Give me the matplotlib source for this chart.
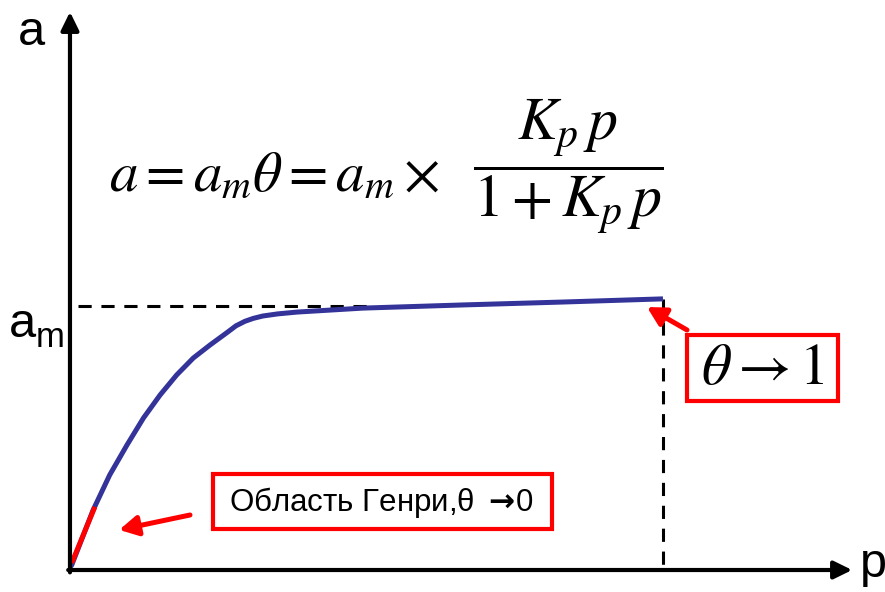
import matplotlib.pyplot as plt
from matplotlib.patches import Rectangle

plt.rcParams['font.family'] = ['Liberation Sans', 'DejaVu Sans']
plt.rcParams['lines.scale_dashes'] = False

# isotherm: pressure p and adsorption a (a_m = 1)
p_vals = [0.0, 0.03, 0.39, 0.67, 0.96, 1.24, 1.52, 1.80, 2.08, 2.36, 2.64,
          2.80, 2.95, 3.09, 3.25, 3.50, 3.83, 4.94, 6.63, 8.31, 10.0]
a_vals = [0.01, 0.019, 0.227, 0.360, 0.473, 0.576, 0.663, 0.739, 0.803, 0.852,
          0.898, 0.925, 0.942, 0.953, 0.962, 0.970, 0.977, 0.992, 1.004, 1.015,
          1.027]

# Henry region, initial linear part
henry_p = [0.03, 0.42]
henry_a = [0.027, 0.239]

a_m = 1.0
p_end = 10.0

W, H = 885, 592
fig = plt.figure(figsize=(W / 100, H / 100), dpi=100)
ax = fig.add_axes([0, 0, 1, 1])
ax.set_xlim(-1.180, 13.744)
ax.set_ylim(-0.0833, 2.159)
ax.axis('off')


def px(x, y):
    return x / W, 1 - y / H


# axes with arrows
arrow_k = dict(arrowstyle='-|>,head_length=0.55,head_width=0.27', lw=3,
               color='black', shrinkA=0, shrinkB=0, mutation_scale=20)
ax.annotate('', xy=(0, 2.114), xytext=(0, -0.009), arrowprops=arrow_k)
ax.annotate('', xy=(13.19, 0), xytext=(-0.03, 0), arrowprops=arrow_k)

# dashed guides
ax.plot([0.13, 5.11], [a_m, a_m], color='black', lw=2.2, dashes=(9.5, 7))
ax.plot([p_end, p_end], [a_vals[-1], 0], color='black', lw=2.2, dashes=(9.5, 7))

# isotherm curve and Henry part
ax.plot(p_vals, a_vals, color='#333399', lw=3.6, solid_capstyle='butt',
        solid_joinstyle='round')
ax.plot(henry_p, henry_a, color='red', lw=3.6, solid_capstyle='butt')

# axis labels
ax.text(*px(18, 45), 'a', transform=ax.transAxes, fontsize=35,
        ha='left', va='baseline')
ax.text(*px(860, 577), 'p', transform=ax.transAxes, fontsize=35,
        ha='left', va='baseline')
ax.text(*px(9, 337), 'a', transform=ax.transAxes, fontsize=35,
        ha='left', va='baseline')
ax.text(*px(36, 347), 'm', transform=ax.transAxes, fontsize=25,
        ha='left', va='baseline')

# Langmuir equation: left side and fraction
ax.text(*px(109, 190), r'$a = a_m\theta = a_m \times$',
        transform=ax.transAxes, fontsize=41, math_fontfamily='stix',
        ha='left', va='baseline')
ax.text(*px(568, 166), r'$\dfrac{K_p\, p}{1 + K_p\, p}$',
        transform=ax.transAxes, fontsize=43, math_fontfamily='stix',
        ha='center', va='center')

# theta -> 1 box
x0, y0 = px(687, 401)
x1, y1 = px(838, 335)
ax.add_patch(Rectangle((x0, y0), x1 - x0, y1 - y0, transform=ax.transAxes,
                       fill=False, edgecolor='red', lw=3))
ax.text(*px(763, 369), r'$\theta \rightarrow 1$', transform=ax.transAxes,
        fontsize=42, math_fontfamily='stix', ha='center', va='center')

# Henry box
x0, y0 = px(213, 529)
x1, y1 = px(552, 474)
ax.add_patch(Rectangle((x0, y0), x1 - x0, y1 - y0, transform=ax.transAxes,
                       fill=False, edgecolor='red', lw=3))
ax.text(*px(382, 502), r'Область Генри,θ$\;\mathbf{\rightarrow}\!$0',
        transform=ax.transAxes, fontsize=22.5, math_fontfamily='dejavusans',
        ha='center', va='center')

# red pointers
arrow_r = dict(arrowstyle='-|>,head_length=0.55,head_width=0.3', lw=3.6,
               color='red', shrinkA=0, shrinkB=0, mutation_scale=20)
ax.annotate('', xy=(0.83, 0.152), xytext=px(190, 515),
            textcoords='axes fraction', arrowprops=arrow_r)
ax.annotate('', xy=(9.73, 0.996), xytext=px(687, 330),
            textcoords='axes fraction', arrowprops=arrow_r)

fig.savefig('out.png', dpi=100)
